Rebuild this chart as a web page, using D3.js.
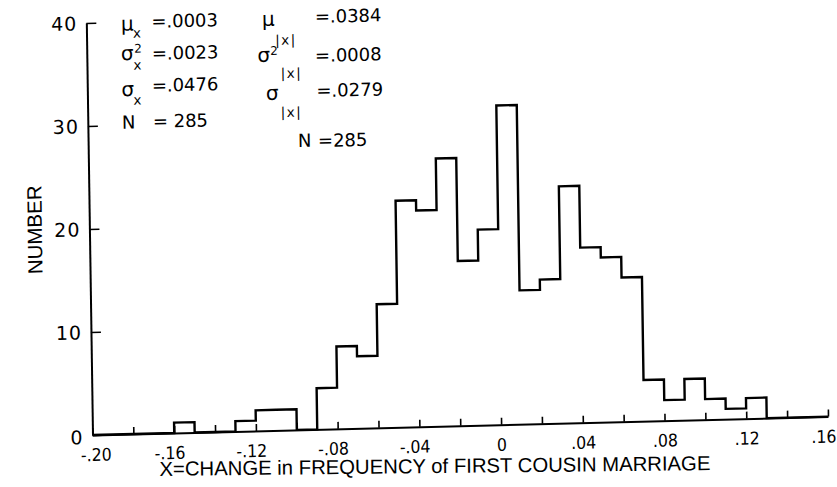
<!DOCTYPE html>
<html>
<head>
<meta charset="utf-8">
<script src="https://cdn.jsdelivr.net/npm/d3@7"></script>
<style>
	body { margin: 0; background: #fff; }
</style>
</head>
<body>
<div class="chart"></div>
<script>
// histogram of change in first cousin marriage frequency, bins of .01
const binStarts = [-0.20, -0.19, -0.18, -0.17, -0.16, -0.15, -0.14, -0.13, -0.12, -0.11,
	-0.10, -0.09, -0.08, -0.07, -0.06, -0.05, -0.04, -0.03, -0.02, -0.01,
	0.00, 0.01, 0.02, 0.03, 0.04, 0.05, 0.06, 0.07, 0.08, 0.09,
	0.10, 0.11, 0.12, 0.13, 0.14, 0.15];
const counts = [0, 0, 0, 0, 1, 0, 0, 1, 2, 2,
	0, 4, 8, 7, 12, 22, 21, 26, 16, 19,
	31, 13, 14, 23, 17, 16, 14, 4, 2, 4,
	2, 1, 2, 0, 0, 0];
const binWidth = 0.01;

const xTickValues = [-0.20, -0.18, -0.16, -0.14, -0.12, -0.10, -0.08, -0.06, -0.04, -0.02,
	0, 0.02, 0.04, 0.06, 0.08, 0.10, 0.12, 0.14, 0.16];
const xLabelValues = [-0.20, -0.16, -0.12, -0.08, -0.04, 0, 0.04, 0.08, 0.12, 0.16];
const xLabels = ["-.20", "-.16", "-.12", "-.08", "-.04", "0", ".04", ".08", ".12", ".16"];
const yTickValues = [0, 10, 20, 30, 40];

const statsX = [
	{ sym: "μ", sup: "", sub: "x", val: "=.0003" },
	{ sym: "σ", sup: "2", sub: "x", val: "=.0023" },
	{ sym: "σ", sup: "", sub: "x", val: "=.0476" },
	{ sym: "N", sup: "", sub: "", val: "= 285" }
];
const statsAbs = [
	{ sym: "μ", sup: "", sub: "|x|", val: "=.0384" },
	{ sym: "σ", sup: "2", sub: "|x|", val: "=.0008" },
	{ sym: "σ", sup: "", sub: "|x|", val: "=.0279" },
	{ sym: "N", sup: "", sub: "", val: "=285" }
];

const xTitle = "X=CHANGE in FREQUENCY of FIRST COUSIN MARRIAGE";
const yTitle = "NUMBER";

!function () {
	const width = 837, height = 487;
	const x0 = 92.5, y0 = 435;

	const x = d3.scaleLinear().domain([-0.20, 0.16]).range([x0, 828]);
	const y = d3.scaleLinear().domain([0, 40]).range([y0, 23]);

	const svg = d3.select('.chart')
		.append("svg")
		.attr("width", width)
		.attr("height", height)
		.attr("viewBox", [0, 0, width, height]);

	// the scanned figure is a bit skewed, so the plot sits in a sheared group
	const g = svg.append("g")
		.attr("transform", `translate(${x0},${y0}) matrix(1,-0.025,0.015,1,0,0) translate(${-x0},${-y0})`);

	// histogram outline
	const pts = [[binStarts[0], 0]];
	binStarts.forEach((b, i) => {
		pts.push([b, counts[i]], [b + binWidth, counts[i]]);
	});
	pts.push([binStarts[binStarts.length - 1] + binWidth, 0]);

	g.append("path")
		.attr("d", d3.line().x(d => x(d[0])).y(d => y(d[1]))(pts))
		.attr("fill", "none")
		.attr("stroke", "#000")
		.attr("stroke-width", 2.4)
		.attr("stroke-linejoin", "miter");

	const labelOf = v => {
		const i = xLabelValues.findIndex(l => Math.abs(l - v) < 1e-9);
		return i < 0 ? "" : xLabels[i];
	};
	const labelShift = d => {
		if (Math.abs(d + 0.2) < 1e-9) return 3;
		if (Math.abs(d - 0.16) < 1e-9) return -5;
		return d < 0 ? -5 : 0;
	};

	const xAxis = g.append("g")
		.attr("transform", `translate(0,${y0})`)
		.call(d3.axisBottom(x).tickValues(xTickValues).tickSize(-7).tickSizeOuter(0).tickFormat(labelOf));
	xAxis.select(".domain").attr("stroke-width", 2);
	xAxis.selectAll(".tick line").attr("stroke-width", 1.6);
	xAxis.selectAll(".tick text")
		.attr("y", 26)
		.attr("dy", 0)
		.attr("dx", labelShift)
		.style("font", "17.5px 'Liberation Sans Narrow', 'DejaVu Sans Condensed', sans-serif")
		.attr("fill", "#000");

	const yAxis = g.append("g")
		.attr("transform", `translate(${x0},0)`)
		.call(d3.axisLeft(y).tickValues(yTickValues).tickSize(-10).tickSizeOuter(0).tickPadding(9));
	yAxis.select(".domain").attr("stroke-width", 2);
	yAxis.selectAll(".tick line").attr("stroke-width", 1.6);
	yAxis.selectAll(".tick text")
		.attr("dy", d => d === 0 ? "0.45em" : "0.35em")
		.style("font", "19px 'DejaVu Sans', sans-serif")
		.style("letter-spacing", "1px")
		.attr("fill", "#000");

	g.append("text")
		.attr("transform", "translate(45,228.5) rotate(-90)")
		.attr("text-anchor", "middle")
		.style("font", "20.5px 'Liberation Sans', Arial, sans-serif")
		.text(yTitle);

	// summary statistics, two columns
	const posX = [
		{ sx: 127, sy: 31.5, px: 0, py: 0, bx: 139, by: 39, vx: 157.5, vy: 29.5 },
		{ sx: 126.5, sy: 61, px: 140, py: 54, bx: 139, by: 71, vx: 157.5, vy: 61.5 },
		{ sx: 126.5, sy: 97, px: 0, py: 0, bx: 138.5, by: 106, vx: 157, vy: 93.5 },
		{ sx: 126.5, sy: 129.5, px: 0, py: 0, bx: 0, by: 0, vx: 157.5, vy: 129.5 }
	];
	const posAbs = [
		{ sx: 268, sy: 30.5, px: 0, py: 0, bx: 281, by: 49.7, vx: 321, vy: 28.7 },
		{ sx: 263, sy: 66.3, px: 276, py: 59.6, bx: 286, by: 82.9, vx: 320.6, vy: 67.7 },
		{ sx: 271, sy: 104.5, px: 0, py: 0, bx: 285.5, by: 121.9, vx: 321.5, vy: 102.8 },
		{ sx: 302.3, sy: 152.3, px: 0, py: 0, bx: 0, by: 0, vx: 322.3, vy: 152.8 }
	];

	const statFont = "'DejaVu Sans', sans-serif";
	function drawStats(stats, pos) {
		stats.forEach((s, i) => {
			const p = pos[i];
			g.append("text").attr("x", p.sx).attr("y", p.sy)
				.style("font", `${s.sym === "N" ? 18 : 20}px ${statFont}`).text(s.sym);
			if (s.sup) g.append("text").attr("x", p.px).attr("y", p.py)
				.style("font", `12px ${statFont}`).text(s.sup);
			if (s.sub) g.append("text").attr("x", p.bx).attr("y", p.by)
				.style("font", `13.5px ${statFont}`).style("letter-spacing", "1.5px").text(s.sub);
			g.append("text").attr("x", p.vx).attr("y", p.vy)
				.style("font", `18px ${statFont}`).text(s.val);
		});
	}
	drawStats(statsX, posX);
	drawStats(statsAbs, posAbs);

	svg.append("text")
		.attr("x", 435)
		.attr("y", 473)
		.attr("transform", "rotate(-0.6,435,473)")
		.attr("text-anchor", "middle")
		.style("font", "20.3px 'Liberation Sans', Arial, sans-serif")
		.text(xTitle);
}();
</script>
</body>
</html>
